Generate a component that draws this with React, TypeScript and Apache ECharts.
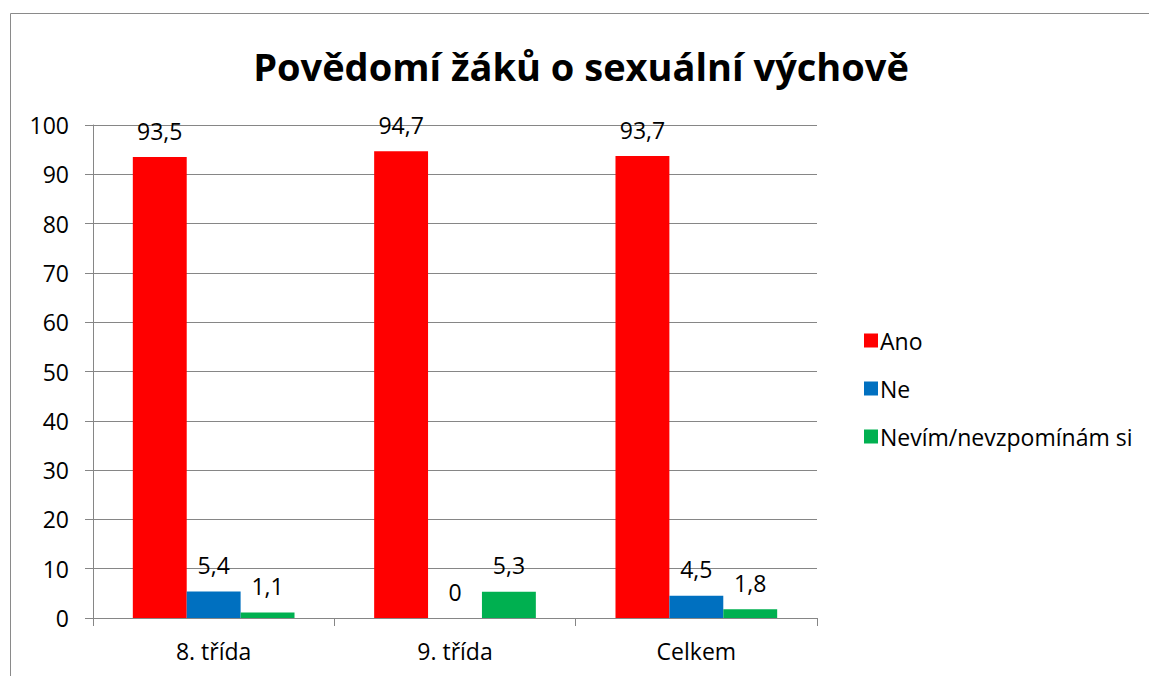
import React, { useEffect, useRef } from "react";
import * as echarts from "echarts";

const categories = ["8. třída", "9. třída", "Celkem"];
const seriesNames = ["Ano", "Ne", "Nevím/nevzpomínám si"];
const ano = [93.5, 94.7, 93.7];
const ne = [5.4, 0, 4.5];
const nevim = [1.1, 5.3, 1.8];
const yTicks = { min: 0, max: 100, interval: 10 };
const colors = ["#FF0000", "#0070C0", "#00B050"];

const FONT = "'Open Sans', 'Noto Sans', sans-serif";
const FS = 23;

export default function App() {
  const ref = useRef<HTMLDivElement>(null);
  useEffect(() => {
    document.body.style.margin = "0";
    const chart = echarts.init(ref.current!, null, { renderer: "svg" });
    const values = [ano, ne, nevim];
    chart.setOption({
      animation: false,
      backgroundColor: "#ffffff",
      textStyle: { fontFamily: FONT },
      title: {
        text: "Povědomí žáků o sexuální výchově",
        left: 576,
        textAlign: "center",
        top: 42,
        textStyle: { fontSize: 38, fontWeight: "bold", color: "#000", fontFamily: FONT },
      },
      graphic: [
        {
          type: "rect",
          shape: { x: 10.5, y: 13.5, width: 1200, height: 800 },
          style: { fill: "none", stroke: "#8a8a8a", lineWidth: 1 },
          silent: true,
        },
      ],
      legend: {
        orient: "vertical",
        left: 859,
        top: 324,
        itemWidth: 14,
        itemHeight: 14,
        itemGap: 25,
        icon: "rect",
        textStyle: { fontSize: 23, color: "#000", fontFamily: FONT, padding: [0, 0, 0, -3] },
        data: seriesNames,
      },
      grid: { left: 93, top: 125, right: 332, bottom: 58 },
      xAxis: {
        type: "category",
        data: categories,
        axisLine: { lineStyle: { color: "#868686" } },
        axisTick: { show: true, length: 8, lineStyle: { color: "#868686" } },
        axisLabel: { fontSize: FS, color: "#000", margin: 21, fontFamily: FONT },
      },
      yAxis: {
        type: "value",
        min: yTicks.min,
        max: yTicks.max,
        interval: yTicks.interval,
        axisLine: { show: true, lineStyle: { color: "#868686" } },
        axisTick: { show: true, length: 8, lineStyle: { color: "#868686" } },
        splitLine: { lineStyle: { color: "#868686" } },
        axisLabel: { fontSize: FS, color: "#000", margin: 24, fontFamily: FONT },
      },
      series: seriesNames.map((name, i) => ({
        name,
        type: "bar",
        data: values[i],
        barGap: "0%",
        barCategoryGap: "33%",
        itemStyle: { color: colors[i] },
        label: {
          show: true,
          position: "top",
          distance: 15,
          fontSize: FS,
          color: "#000",
          fontFamily: FONT,
          formatter: (p: any) => String(p.value).replace(".", ","),
        },
      })),
    });
    return () => chart.dispose();
  }, []);
  return <div ref={ref} style={{ width: 1149, height: 676 }} />;
}
